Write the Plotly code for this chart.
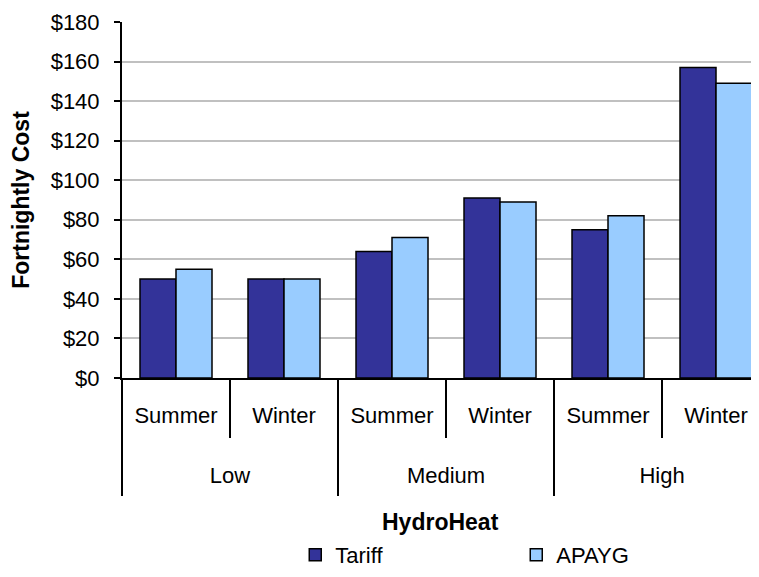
import plotly.graph_objects as go

levels = ["Low", "Low", "Medium", "Medium", "High", "High"]
seasons = ["Summer", "Winter", "Summer", "Winter", "Summer", "Winter"]
tariff = [50, 50, 64, 91, 75, 157]
apayg = [55, 50, 71, 89, 82, 149]
y_ticks = [0, 20, 40, 60, 80, 100, 120, 140, 160, 180]
y_tick_labels = ["$" + str(v) for v in y_ticks]

FONT = "Liberation Sans, Arial, sans-serif"

# category positions derived from the data
idx = list(range(len(seasons)))
groups = []
for i, g in enumerate(levels):
    if not groups or groups[-1][0] != g:
        groups.append([g, i, i])
    else:
        groups[-1][2] = i
group_names = [g[0] for g in groups]
group_centers = [(g[1] + g[2]) / 2 for g in groups]
group_bounds = [groups[0][1] - 0.5] + [g[2] + 0.5 for g in groups]
cat_bounds = [i - 0.5 for i in idx] + [idx[-1] + 0.5]

xr = [-0.5, 5.398]

fig = go.Figure()
fig.add_trace(go.Bar(x=idx, y=tariff, name="Tariff",
                     marker=dict(color="#333399", line=dict(color="black", width=1.5))))
fig.add_trace(go.Bar(x=idx, y=apayg, name="APAYG",
                     marker=dict(color="#99CCFF", line=dict(color="black", width=1.5))))
# empty helper traces so the extra category-axis layers are drawn
for ax in ["x2", "x3", "x4"]:
    fig.add_trace(go.Scatter(x=[], y=[], xaxis=ax, yaxis="y", showlegend=False, hoverinfo="skip"))

common = dict(range=xr, showgrid=False, zeroline=False, fixedrange=True)

fig.update_layout(
    width=751, height=569,
    margin=dict(l=114, r=0, t=14, b=199, autoexpand=False),
    paper_bgcolor="white", plot_bgcolor="white",
    barmode="group", bargap=1/3, bargroupgap=0,
    font=dict(family=FONT, size=22, color="black"),
    showlegend=True,
    legend=dict(orientation="h", x=0.272, xanchor="left", y=-0.497, yanchor="middle",
                entrywidth=176, font=dict(size=22), itemwidth=30,
                traceorder="normal"),
    xaxis=dict(**common, tickmode="array", tickvals=idx, ticktext=seasons, ticks="",
               showline=True, linecolor="black", linewidth=2,
               ticklabelstandoff=17, tickfont=dict(size=22)),
    xaxis2=dict(**common, overlaying="x", anchor="y", side="bottom",
                tickmode="array", tickvals=cat_bounds, showticklabels=False,
                ticks="outside", ticklen=59, tickwidth=2, tickcolor="black"),
    xaxis3=dict(**common, overlaying="x", anchor="y", side="bottom",
                tickmode="array", tickvals=group_bounds, showticklabels=False,
                ticks="outside", ticklen=117, tickwidth=2, tickcolor="black"),
    xaxis4=dict(**common, overlaying="x", anchor="y", side="bottom",
                tickmode="array", tickvals=group_centers, ticktext=group_names,
                ticks="", ticklabelstandoff=82, tickfont=dict(size=22)),
    yaxis=dict(range=[0, 180], tickvals=y_ticks, ticktext=y_tick_labels,
               showline=True, linecolor="black", linewidth=2,
               ticks="outside", ticklen=6, tickcolor="black", tickwidth=2,
               ticklabelstandoff=10,
               gridcolor="#C0C0C0", gridwidth=2, tickfont=dict(size=22),
               title=dict(text="<b>Fortnightly Cost</b>", font=dict(size=23), standoff=18),
               zeroline=False, fixedrange=True),
)
fig.add_annotation(text="<b>HydroHeat</b>", xref="paper", yref="paper",
                   x=0.5, y=-0.4045, xanchor="center", yanchor="middle",
                   showarrow=False, font=dict(size=23))

fig.write_html("out.html")
